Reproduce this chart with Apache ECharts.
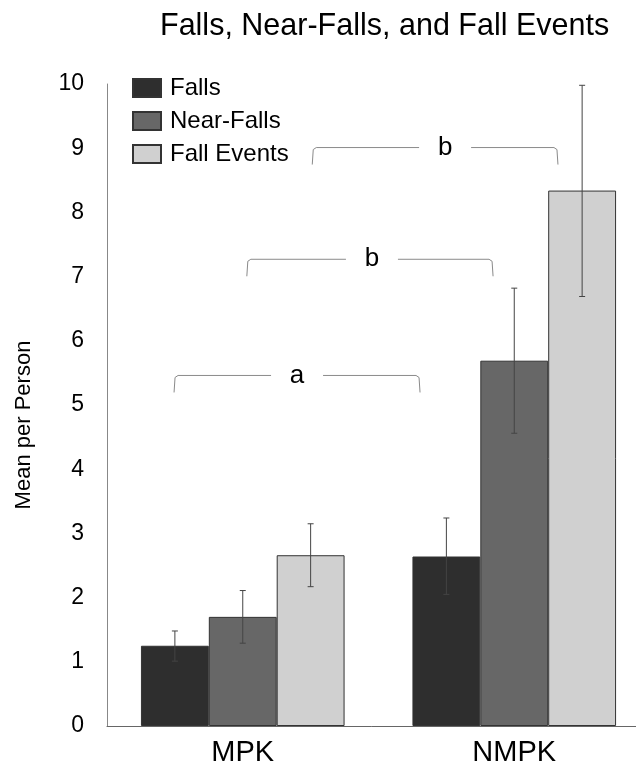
<!DOCTYPE html>
<html>
<head>
<meta charset="utf-8">
<script src="https://cdn.jsdelivr.net/npm/echarts@6/dist/echarts.min.js"></script>
<style>
  html, body { margin: 0; padding: 0; background: #fff; }
  #chart { width: 636px; height: 767px; }
</style>
</head>
<body>
<div id="chart"></div>
<script>
// data
var categories = ['MPK', 'NMPK'];
var seriesNames = ['Falls', 'Near-Falls', 'Fall Events'];
var falls = [1.25, 2.64];
var nearFalls = [1.70, 5.69];
var fallEvents = [2.66, 8.34];
// error bars: [low, high] per category
var fallsErr = [[1.01, 1.48], [2.05, 3.24]];
var nearFallsErr = [[1.29, 2.11], [4.56, 6.82]];
var fallEventsErr = [[2.17, 3.15], [6.69, 9.98]];
var yTicks = [0, 1, 2, 3, 4, 5, 6, 7, 8, 9, 10];

// significance brackets
var bracketLabels = ['a', 'b', 'b'];
var bracketLevels = [5.46, 7.27, 9.01];
var bracketSpans = [[-0.253, 0.653], [0.015, 0.922], [0.256, 1.161]]; // in category widths from MPK centre

var font = 'Liberation Sans, Arial, sans-serif';
var colors = ['#2e2e2e', '#676767', '#d0d0d0'];
var values = [falls, nearFalls, fallEvents];
var errs = [fallsErr, nearFallsErr, fallEventsErr];
var labelShift = [0, 2, 10]; // letter is not quite centred on the top bracket

var chart = echarts.init(document.getElementById('chart'));

var series = [];
seriesNames.forEach(function (name, k) {
  series.push({
    name: name,
    type: 'bar',
    data: values[k],
    barWidth: '25%',
    barGap: '0%',
    itemStyle: { color: colors[k], borderColor: '#333', borderWidth: 1 }
  });
});

// error bars
seriesNames.forEach(function (name, k) {
  series.push({
    type: 'custom',
    z: 5,
    silent: true,
    clip: false,
    data: errs[k].map(function (e, i) { return [i, e[0], e[1]]; }),
    encode: { x: 0, y: [1, 2] },
    renderItem: function (params, api) {
      var band = api.size([1, 0])[0];
      var off = (k - 1) * band * 0.25;
      var lo = api.coord([api.value(0), api.value(1)]);
      var hi = api.coord([api.value(0), api.value(2)]);
      var x = lo[0] + off;
      var cap = 3;
      var st = { stroke: '#444', lineWidth: 1 };
      return {
        type: 'group',
        children: [
          { type: 'line', shape: { x1: x, y1: lo[1], x2: x, y2: hi[1] }, style: st },
          { type: 'line', shape: { x1: x - cap, y1: lo[1], x2: x + cap, y2: lo[1] }, style: st },
          { type: 'line', shape: { x1: x - cap, y1: hi[1], x2: x + cap, y2: hi[1] }, style: st }
        ]
      };
    }
  });
});

// brackets with letters
series.push({
  type: 'custom',
  z: 6,
  silent: true,
  clip: false,
  data: bracketLevels.map(function (lv, i) { return [0, lv]; }),
  encode: { x: 0, y: 1 },
  renderItem: function (params, api) {
    var i = params.dataIndex;
    var band = api.size([1, 0])[0];
    var c = api.coord([0, api.value(1)]);
    var x1 = c[0] + bracketSpans[i][0] * band;
    var x2 = c[0] + bracketSpans[i][1] * band;
    var y = c[1];
    var drop = 17;
    var mid = (x1 + x2) / 2 + labelShift[i];
    var gap = 26;
    var st = { stroke: '#8a8a8a', lineWidth: 1, fill: null };
    return {
      type: 'group',
      children: [
        { type: 'polyline', shape: { points: [[x1, y + drop], [x1 + 1, y + 2], [x1 + 4, y], [mid - gap, y]] }, style: st },
        { type: 'polyline', shape: { points: [[mid + gap, y], [x2 - 4, y], [x2 - 1, y + 2], [x2, y + drop]] }, style: st },
        { type: 'text', x: mid, y: y, style: { text: bracketLabels[i], font: '26px ' + font, fill: '#000', align: 'center', verticalAlign: 'middle' } }
      ]
    };
  }
});

chart.setOption({
  animation: false,
  backgroundColor: '#fff',
  title: {
    text: 'Falls, Near-Falls, and Fall Events',
    left: 155,
    top: 6,
    textStyle: { fontFamily: font, fontSize: 30.5, fontWeight: 'normal', color: '#000' }
  },
  legend: {
    data: seriesNames,
    orient: 'vertical',
    left: 127,
    top: 71,
    icon: 'rect',
    itemWidth: 28,
    itemHeight: 18,
    itemGap: 9,
    textStyle: { fontFamily: font, fontSize: 24, color: '#000', padding: [0, 0, 0, 4] }
  },
  grid: { left: 107, width: 543, top: 84, bottom: 41, containLabel: false, outerBoundsMode: 'none' },
  xAxis: {
    type: 'category',
    data: categories,
    axisLine: { lineStyle: { color: '#666', width: 1 } },
    axisTick: { show: false },
    axisLabel: { fontFamily: font, fontSize: 29, color: '#000', margin: 12 }
  },
  yAxis: {
    type: 'value',
    min: yTicks[0],
    max: yTicks[yTicks.length - 1],
    interval: 1,
    name: 'Mean per Person',
    nameLocation: 'middle',
    nameGap: 72,
    nameTextStyle: { fontFamily: font, fontSize: 22, color: '#000', padding: [0, 40, 0, 0] },
    axisLine: { show: true, lineStyle: { color: '#888', width: 1 } },
    axisTick: { show: false },
    splitLine: { show: false },
    axisLabel: { fontFamily: font, fontSize: 23, color: '#000', margin: 23 }
  },
  series: series
});
</script>
</body>
</html>
